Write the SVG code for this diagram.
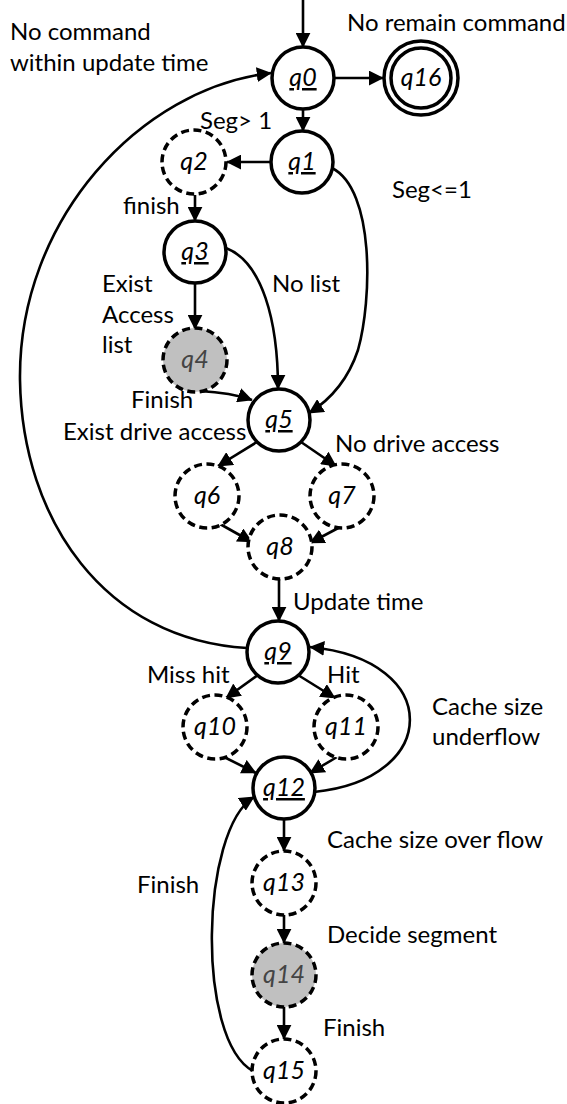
<svg xmlns="http://www.w3.org/2000/svg" width="567" height="1104" viewBox="0 0 567 1104">
<defs>
  <marker id="arr" viewBox="0 0 10 10" refX="9.5" refY="5" markerWidth="15" markerHeight="15" markerUnits="userSpaceOnUse" orient="auto">
    <path d="M0,0 L10,5 L0,10 z" fill="#000"/>
  </marker>
  <style>
    .st { fill: #fff; stroke: #000; stroke-width: 3.5; }
    .dash { fill: #fff; stroke: #000; stroke-width: 3.5; stroke-dasharray: 8 4.5; }
    .grey { fill: #c0c0c0; }
    .nl { font-family: Lato, "Liberation Sans", sans-serif; font-style: italic; font-size: 25px; text-anchor: middle; fill: #000; }
    .ul { text-decoration: underline; }
    .gt { fill: #444; }
    .lb { font-family: Lato, "Liberation Sans", sans-serif; font-size: 24px; fill: #000; }
    .ed { fill: none; stroke: #000; stroke-width: 2.6; }
  </style>
</defs>
<rect width="567" height="1104" fill="#fff"/>

<g id="connectors">
  <path class="ed" d="M303,0 L303,47" marker-end="url(#arr)"/>
  <path class="ed" d="M334,78 L383,78" marker-end="url(#arr)"/>
  <path class="ed" d="M303,109 L303,131" marker-end="url(#arr)"/>
  <path class="ed" d="M271,162 L227,162" marker-end="url(#arr)"/>
  <path class="ed" d="M332,168 C375,190 372,300 358,350 C348,380 330,400 309,413" marker-end="url(#arr)"/>
  <path class="ed" d="M195,195 L195,221" marker-end="url(#arr)"/>
  <path class="ed" d="M226,248 C262,262 278,320 278,389" marker-end="url(#arr)"/>
  <path class="ed" d="M195,283 L195,329" marker-end="url(#arr)"/>
  <path class="ed" d="M200,391 C220,392 235,394 252,400" marker-end="url(#arr)"/>
  <path class="ed" d="M257,442 L218,466" marker-end="url(#arr)"/>
  <path class="ed" d="M301,442 L336,466" marker-end="url(#arr)"/>
  <path class="ed" d="M220,524 L252,542" marker-end="url(#arr)"/>
  <path class="ed" d="M342,526 L310,543" marker-end="url(#arr)"/>
  <path class="ed" d="M279,579 L279,621" marker-end="url(#arr)"/>
  <path class="ed" d="M247,648 C105,640 22,520 20,380 C18,220 140,88 271,73" marker-end="url(#arr)"/>
  <path class="ed" d="M258,675 L226,698" marker-end="url(#arr)"/>
  <path class="ed" d="M298,675 L335,698" marker-end="url(#arr)"/>
  <path class="ed" d="M224,757 L256,773" marker-end="url(#arr)"/>
  <path class="ed" d="M337,757 L310,773" marker-end="url(#arr)"/>
  <path class="ed" d="M314,792 C440,780 445,660 310,647" marker-end="url(#arr)"/>
  <path class="ed" d="M284,819 L284,851" marker-end="url(#arr)"/>
  <path class="ed" d="M284,915 L284,943" marker-end="url(#arr)"/>
  <path class="ed" d="M284,1007 L284,1039" marker-end="url(#arr)"/>
  <path class="ed" d="M253,1071 C196,1040 200,830 254,797" marker-end="url(#arr)"/>
</g>

<g id="q0"><circle class="st" cx="303" cy="78" r="31"/><text class="nl ul" x="303" y="86">q0</text></g>
<g id="q16"><circle class="st" cx="421" cy="78" r="37"/><circle class="st" cx="421" cy="78" r="30"/><text class="nl" x="421" y="86">q16</text></g>
<g id="q1"><circle class="st" cx="302" cy="162" r="31"/><text class="nl ul" x="302" y="170">q1</text></g>
<g id="q2"><circle class="dash" cx="194" cy="162" r="32"/><text class="nl" x="194" y="170">q2</text></g>
<g id="q3"><circle class="st" cx="195" cy="252" r="31"/><text class="nl ul" x="195" y="260">q3</text></g>
<g id="q4"><circle class="dash grey" cx="195" cy="360" r="32"/><text class="nl gt" x="195" y="368">q4</text></g>
<g id="q5"><circle class="st" cx="279" cy="420" r="31"/><text class="nl ul" x="279" y="428">q5</text></g>
<g id="q6"><circle class="dash" cx="207" cy="496" r="32"/><text class="nl" x="207" y="504">q6</text></g>
<g id="q7"><circle class="dash" cx="342" cy="496" r="32"/><text class="nl" x="342" y="504">q7</text></g>
<g id="q8"><circle class="dash" cx="280" cy="547" r="32"/><text class="nl" x="280" y="555">q8</text></g>
<g id="q9"><circle class="st" cx="278" cy="652" r="31"/><text class="nl ul" x="278" y="660">q9</text></g>
<g id="q10"><circle class="dash" cx="215" cy="727" r="32"/><text class="nl" x="215" y="735">q10</text></g>
<g id="q11"><circle class="dash" cx="346" cy="727" r="32"/><text class="nl" x="346" y="735">q11</text></g>
<g id="q12"><circle class="st" cx="284" cy="788" r="31"/><text class="nl ul" x="284" y="796">q12</text></g>
<g id="q13"><circle class="dash" cx="284" cy="883" r="32"/><text class="nl" x="284" y="891">q13</text></g>
<g id="q14"><circle class="dash grey" cx="284" cy="975" r="32"/><text class="nl gt" x="284" y="983">q14</text></g>
<g id="q15"><circle class="dash" cx="284" cy="1071" r="32"/><text class="nl" x="284" y="1079">q15</text></g>

<g id="labels">
  <text class="lb" x="10" y="40">No command</text>
  <text class="lb" x="10" y="71">within update time</text>
  <text class="lb" x="347" y="31">No remain command</text>
  <text class="lb" x="200" y="129">Seg&gt; 1</text>
  <text class="lb" x="392" y="198">Seg&lt;=1</text>
  <text class="lb" x="123" y="214">finish</text>
  <text class="lb" x="102" y="292">Exist</text>
  <text class="lb" x="102" y="323">Access</text>
  <text class="lb" x="102" y="353">list</text>
  <text class="lb" x="272" y="292">No list</text>
  <text class="lb" x="131" y="408">Finish</text>
  <text class="lb" x="63" y="440">Exist drive access</text>
  <text class="lb" x="335" y="452">No drive access</text>
  <text class="lb" x="293" y="610">Update time</text>
  <text class="lb" x="147" y="683">Miss hit</text>
  <text class="lb" x="327" y="683">Hit</text>
  <text class="lb" x="432" y="715">Cache size</text>
  <text class="lb" x="432" y="745">underflow</text>
  <text class="lb" x="327" y="848">Cache size over flow</text>
  <text class="lb" x="137" y="893">Finish</text>
  <text class="lb" x="327" y="943">Decide segment</text>
  <text class="lb" x="323" y="1036">Finish</text>
</g>
</svg>
